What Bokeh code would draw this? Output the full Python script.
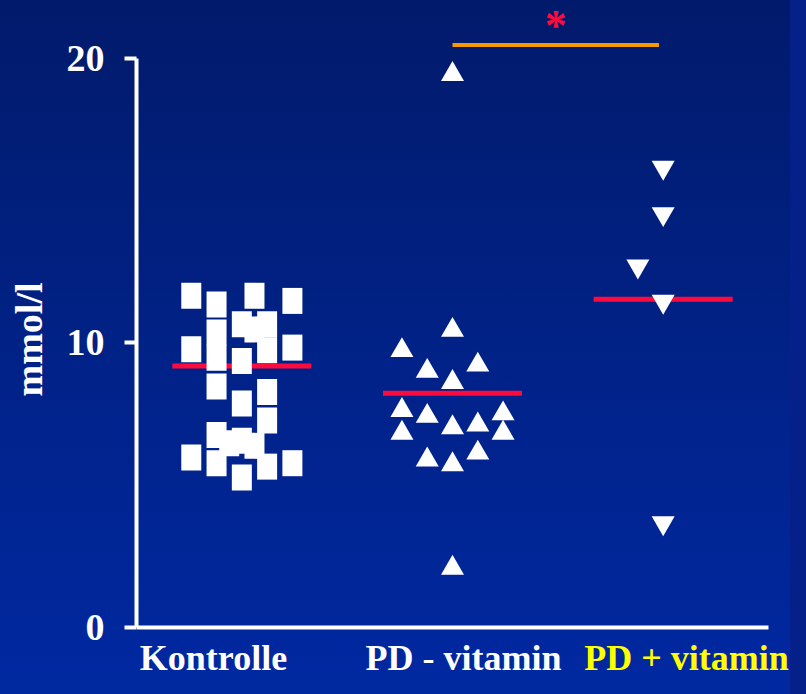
from bokeh.plotting import figure
from bokeh.models import Range1d, FixedTicker
from bokeh.core.properties import value
from bokeh.embed import file_html
from bokeh.resources import INLINE

# ---------------- data ----------------
categories = ["Kontrolle", "PD - vitamin", "PD + vitamin"]

kontrolle_values = [11.65, 11.34, 11.65, 11.47, 10.36, 9.47, 10.65, 10.47, 10.65,
                    9.74, 9.83, 9.77, 9.36, 8.46, 8.27, 7.87, 7.27, 6.76, 6.56,
                    6.47, 6.38, 5.97, 5.77, 5.65, 5.77, 5.27]
pd_minus_values = [9.73, 7.63, 6.83, 9.00, 7.42, 5.89, 19.43, 10.44, 8.61, 7.02,
                   5.72, 2.09, 9.22, 7.12, 6.13, 7.51, 6.83]
pd_plus_values = [16.16, 14.53, 12.69, 11.45, 3.67]

group_means = [9.18, 8.23, 11.53]

sig_from = 2.0      # PD - vitamin
sig_to = 2.98       # PD + vitamin
sig_level = 20.46
sig_text = "*"

y_ticks = [0, 10, 20]
y_label = "mmol/l"

# ---------------- presentation (jitter / positions / styles) ----------------
kontrolle_jitter = [-0.24, -0.12, 0.06, 0.24, -0.12, -0.12, 0.0, 0.06, 0.12,
                    0.12, 0.24, -0.24, 0.0, -0.12, 0.12, 0.0, 0.12, -0.12, 0.0,
                    -0.06, 0.06, -0.24, -0.12, 0.12, 0.24, 0.0]
pd_minus_jitter = [-0.24, -0.24, -0.24, -0.12, -0.12, -0.12, 0, 0, 0, 0, 0, 0,
                   0.12, 0.12, 0.12, 0.24, 0.24]
pd_plus_jitter = [0, 0, -0.12, 0, 0]

cat_x = [1, 2, 3]
axis_x_extent = (0.5, 3.5)
mean_half_width = 0.33
label_x = [0.8655, 2.052, 3.111]
label_y = -1.071
label_colors = ["white", "white", "#ffff00"]
star_gap = 0.68

FONT = "Liberation Serif"
RED = "#ff0a3c"
ORANGE = "#f59b00"

p = figure(width=790, height=678, title=None,
           x_range=Range1d(0.5, 3.6044), y_range=Range1d(-1.791, 22.02),
           output_backend="svg", toolbar_location=None,
           min_border_left=136, min_border_right=0,
           min_border_top=0, min_border_bottom=0)
p.border_fill_alpha = 0
p.background_fill_alpha = 0
p.outline_line_color = None
p.grid.visible = False
p.styles = {
    "background": "linear-gradient(to bottom, #011a6b, #0028a0)",
    "box-shadow": "0 -16px 0 0 #011a6b, 0 16px 0 0 #0029a0, 0 0 0 16px #06208a",
}

# y axis
yax = p.yaxis[0]
yax.ticker = FixedTicker(ticks=y_ticks)
yax.bounds = (0, 20)
yax.axis_line_color = "white"
yax.axis_line_width = 4
yax.major_tick_line_color = "white"
yax.major_tick_line_width = 4
yax.major_tick_out = 12
yax.major_tick_in = 0
yax.minor_tick_line_color = None
yax.major_label_text_color = "white"
yax.major_label_text_font = FONT
yax.major_label_text_font_style = "bold"
yax.major_label_text_font_size = "38px"
yax.major_label_standoff = 20
yax.axis_label = y_label
yax.axis_label_text_color = "white"
yax.axis_label_text_font = FONT
yax.axis_label_text_font_style = "bold"
yax.axis_label_text_font_size = "38px"
yax.axis_label_standoff = 14

# x axis drawn as a rule at y = 0 over the category extent
p.xaxis.visible = False
p.segment(x0=[axis_x_extent[0]], y0=[0], x1=[axis_x_extent[1]], y1=[0],
          line_color="white", line_width=4)

# mean lines
p.segment(x0=[c - mean_half_width for c in cat_x], y0=group_means,
          x1=[c + mean_half_width for c in cat_x], y1=group_means,
          line_color=RED, line_width=5)

# significance bar + star
p.segment(x0=[sig_from], y0=[sig_level], x1=[sig_to], y1=[sig_level],
          line_color=ORANGE, line_width=4)
p.text(x=[(sig_from + sig_to) / 2], y=[sig_level + star_gap], text=[sig_text],
       text_color=RED, text_font=value(FONT), text_font_style="bold",
       text_font_size="44px", text_align="center", text_baseline="middle")

# points
p.rect(x=[cat_x[0] + j for j in kontrolle_jitter], y=kontrolle_values,
       width=20, height=26, width_units="screen", height_units="screen",
       fill_color="white", line_color=None)
p.scatter(x=[cat_x[1] + j for j in pd_minus_jitter], y=pd_minus_values,
          marker="triangle", size=23, fill_color="white", line_color=None)
p.scatter(x=[cat_x[2] + j for j in pd_plus_jitter], y=pd_plus_values,
          marker="inverted_triangle", size=23, fill_color="white", line_color=None)

# category labels
p.text(x=label_x, y=[label_y] * len(categories), text=categories,
       text_color=label_colors, text_font=value(FONT), text_font_style="bold",
       text_font_size="36px", text_align="center", text_baseline="middle")

open("out.html", "w").write(file_html(p, INLINE))
